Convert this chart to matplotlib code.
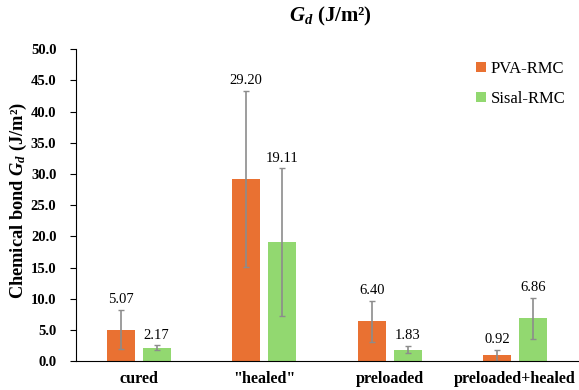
import numpy as np
import matplotlib.pyplot as plt

plt.rcParams['font.family'] = 'Liberation Serif'
plt.rcParams['mathtext.fontset'] = 'custom'
plt.rcParams['mathtext.rm'] = 'Liberation Serif:bold'
plt.rcParams['mathtext.it'] = 'Liberation Serif:italic:bold'
plt.rcParams['mathtext.bf'] = 'Liberation Serif:bold'

categories = ['cured', '"healed"', 'preloaded', 'preloaded+healed']
pva = [5.07, 29.20, 6.40, 0.92]
sisal = [2.17, 19.11, 1.83, 6.86]
pva_err = [3.1, 14.1, 3.3, 0.85]
sisal_err = [0.35, 11.8, 0.6, 3.3]

x = np.arange(len(categories))
w = 0.223
off = 0.143

fig = plt.figure(figsize=(5.79, 3.9), dpi=100)
ax = fig.add_axes([0.131, 0.074, 0.867, 0.8])

ekw = dict(ecolor='#8c8c8c', elinewidth=1.2, capsize=2.5, capthick=1.0)
ax.bar(x - off, pva, w, color='#E97132', label='PVA-RMC', yerr=pva_err, error_kw=ekw)
ax.bar(x + off, sisal, w, color='#92D870', label='Sisal-RMC', yerr=sisal_err, error_kw=ekw)

for xi, v, e in zip(x - off, pva, pva_err):
    ax.text(xi, v + e + 0.6, f'{v:.2f}', ha='center', va='bottom', fontsize=10.5)
for xi, v, e in zip(x + off, sisal, sisal_err):
    ax.text(xi, v + e + 0.6, f'{v:.2f}', ha='center', va='bottom', fontsize=10.5)

ax.set_xlim(-0.5, 3.5)
ax.set_ylim(0, 50)
ax.set_yticks(np.arange(0, 50.1, 5))
ax.set_yticklabels([f'{t:.1f}' for t in np.arange(0, 50.1, 5)], fontweight='bold', fontsize=10.5)
ax.set_xticks(x)
ax.set_xticklabels(categories, fontweight='bold', fontsize=11.6)
ax.tick_params(axis='x', length=0, pad=7)
ax.tick_params(axis='y', length=4, direction='out', pad=10)
ax.spines['top'].set_visible(False)
ax.spines['right'].set_visible(False)

ax.set_ylabel('Chemical bond $G_d$ (J/m²)', fontweight='bold', fontsize=13.2)
ax.yaxis.set_label_coords(-0.094, 0.515)
fig.text(0.57, 0.958, '$G_d$ (J/m²)', ha='center', va='center', fontweight='bold', fontsize=15)

leg = ax.legend(loc='upper right', bbox_to_anchor=(0.995, 0.995), frameon=False, fontsize=12,
                handlelength=0.55, handleheight=0.55, handletextpad=0.3, labelspacing=0.85,
                borderaxespad=0.2)

fig.savefig('out.png', dpi=100)
